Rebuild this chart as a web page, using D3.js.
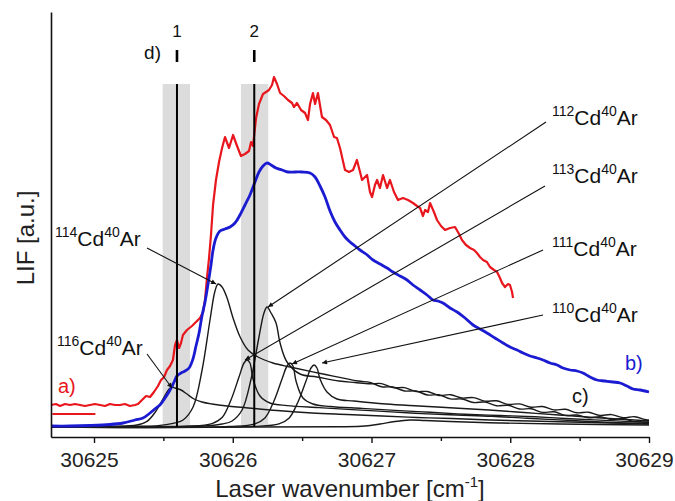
<!DOCTYPE html>
<html>
<head>
<meta charset="utf-8">
<script src="https://cdn.jsdelivr.net/npm/d3@7"></script>
<style>
  html, body { margin: 0; padding: 0; background: #fff; }
  svg { display: block; font-family: "Liberation Sans", Arial, Helvetica, sans-serif; }
</style>
</head>
<body>
<svg id="chart" width="675" height="501"></svg>
<script>
// ---- axis ticks ----
const wavenumberTicks = [30625, 30626, 30627, 30628, 30629];
const halfTicks = [30625.5, 30626.5, 30627.5, 30628.5];

// ---- a) measured LIF excitation spectrum [wavenumber, LIF] ----
const spectrumA = [
  [30624.690,22],[30624.726,23],[30624.755,21],[30624.791,23],[30624.827,22],[30624.863,23],[30624.899,22],
  [30624.935,21],[30624.971,22],[30625.007,23],[30625.043,22],[30625.079,21],[30625.115,23],[30625.151,22],
  [30625.187,22],[30625.223,23],[30625.259,21],[30625.295,22],[30625.317,23],[30625.346,27],[30625.375,31],
  [30625.404,30],[30625.432,35],[30625.461,41],[30625.483,47],[30625.505,50],[30625.526,57],[30625.548,61],
  [30625.569,67],[30625.584,82],[30625.598,87],[30625.613,79],[30625.627,84],[30625.641,92],[30625.670,97],
  [30625.706,101],[30625.735,105],[30625.764,109],[30625.786,115],[30625.800,127],[30625.814,149],[30625.829,169],
  [30625.843,192],[30625.858,222],[30625.879,247],[30625.901,265],[30625.923,279],[30625.944,290],[30625.973,279],
  [30626.002,292],[30626.031,281],[30626.059,271],[30626.088,273],[30626.117,276],[30626.132,285],[30626.146,281],
  [30626.168,309],[30626.189,323],[30626.218,333],[30626.240,335],[30626.261,337],[30626.283,342],[30626.297,350],
  [30626.319,343],[30626.341,334],[30626.369,331],[30626.398,327],[30626.427,324],[30626.441,320],[30626.463,324],
  [30626.492,317],[30626.521,314],[30626.542,307],[30626.557,323],[30626.578,334],[30626.593,323],[30626.614,334],
  [30626.643,310],[30626.672,307],[30626.701,302],[30626.730,290],[30626.751,289],[30626.773,279],[30626.809,257],
  [30626.838,255],[30626.867,257],[30626.895,267],[30626.932,247],[30626.968,252],[30626.989,235],[30627.004,230],
  [30627.025,242],[30627.040,247],[30627.061,239],[30627.083,252],[30627.112,239],[30627.133,247],[30627.162,235],
  [30627.191,227],[30627.227,229],[30627.263,227],[30627.299,224],[30627.328,221],[30627.350,219],[30627.371,211],
  [30627.386,217],[30627.407,215],[30627.422,224],[30627.450,215],[30627.472,207],[30627.501,201],[30627.530,197],
  [30627.566,199],[30627.602,200],[30627.631,193],[30627.652,187],[30627.681,182],[30627.710,179],[30627.739,177],
  [30627.760,174],[30627.782,170],[30627.804,167],[30627.832,165],[30627.854,160],[30627.883,157],[30627.905,155],
  [30627.926,149],[30627.941,144],[30627.962,140],[30627.984,143],[30627.998,142],[30628.013,135],[30628.020,129]
];
// zero level of spectrum a)
const zeroLevelA = [[30624.700,13],[30625.010,13]];

// ---- b) sum of simulated isotopologue bands ----
const spectrumB = [
  [30624.690,1],[30624.827,1],[30624.971,1.5],[30625.115,2.5],[30625.209,4],[30625.295,7],[30625.353,9],
  [30625.404,14],[30625.447,19],[30625.475,22],[30625.512,29],[30625.548,37],[30625.577,45],[30625.598,51],
  [30625.627,54],[30625.656,56],[30625.685,59],[30625.713,68],[30625.735,81],[30625.757,94],[30625.778,111],
  [30625.800,125],[30625.822,143],[30625.843,162],[30625.858,177],[30625.879,189],[30625.908,196],[30625.944,198],
  [30625.980,200],[30626.016,204],[30626.052,212],[30626.088,222],[30626.124,232],[30626.160,245],[30626.189,255],
  [30626.218,261],[30626.247,264],[30626.276,262],[30626.312,259],[30626.355,257],[30626.398,255],[30626.449,255],
  [30626.499,255],[30626.557,254],[30626.593,250],[30626.629,241],[30626.665,230],[30626.701,216],[30626.737,205],
  [30626.773,197],[30626.809,190],[30626.845,185],[30626.881,181],[30626.917,177],[30626.960,173],[30627.011,167],
  [30627.061,163],[30627.112,159],[30627.155,155],[30627.205,151],[30627.256,147],[30627.299,142],[30627.350,137],
  [30627.400,132],[30627.443,127],[30627.479,126],[30627.515,124],[30627.566,119],[30627.617,115],[30627.674,109],
  [30627.732,102],[30627.782,98],[30627.832,94],[30627.890,89],[30627.948,84],[30627.998,80],[30628.049,77],
  [30628.092,74],[30628.143,71],[30628.193,69],[30628.236,67],[30628.287,64],[30628.337,62],[30628.380,59],
  [30628.431,57],[30628.481,56],[30628.524,54],[30628.575,50],[30628.625,47],[30628.683,46],[30628.740,45],
  [30628.791,44],[30628.841,41],[30628.885,38],[30628.935,37],[30629.000,35]
];

// ---- c) simulated band profiles of the CdAr isotopologues ----
const band116 = [
  [30624.690,0],[30625.130,0.4],[30625.310,2],[30625.382,5.6],[30625.447,16],[30625.505,30],[30625.541,38],
  [30625.562,40],[30625.584,39],[30625.627,37],[30625.670,33],[30625.721,28],[30625.778,25],[30625.850,23],
  [30625.959,21],[30626.081,19.5],[30626.319,16.5],[30626.571,14],[30626.823,12.5],[30627.076,11],[30627.328,9.5],
  [30627.580,8.5],[30627.854,7],[30628.142,6],[30628.431,5],[30628.719,4],[30629.000,3.5]
];
const band114 = [
  [30624.690,0],[30625.100,0.6],[30625.462,1.4],[30625.570,3.6],[30625.642,7],[30625.714,20],[30625.779,57],
  [30625.836,107],[30625.872,136],[30625.894,143],[30625.923,140],[30625.959,129],[30626.002,109],[30626.053,90],
  [30626.110,77],[30626.182,70],[30626.290,64],[30626.413,60],[30626.651,53],[30626.903,46],[30626.989,44.6],
  [30627.072,40.3],[30627.155,40],[30627.238,36],[30627.321,36],[30627.404,32],[30627.486,32.2],
  [30627.569,28.1],[30627.652,28],[30627.735,24.5],[30627.818,24.9],[30627.901,21.2],[30627.984,21.7],
  [30628.067,18],[30628.150,18.3],[30628.232,14.6],[30628.315,15.2],[30628.398,11.6],[30628.481,12],
  [30628.564,9.2],[30628.647,10.4],[30628.730,7.5],[30628.813,8.5],[30628.896,5.4],[30628.978,6.2],[30629.000,6]
];
const band113 = [
  [30624.690,0],[30625.670,0.7],[30625.850,3.4],[30625.923,9.4],[30625.987,27],[30626.045,50],[30626.081,64],
  [30626.103,67],[30626.124,64],[30626.146,48],[30626.196,31],[30626.268,24],[30626.391,21.4],[30626.622,19.4],
  [30626.859,17.4],[30627.112,15.4],[30627.364,13.4],[30627.616,12],[30627.868,10.7],[30628.121,8.7],
  [30628.409,6.7],[30628.697,4.7],[30629.000,3]
];
const band112 = [
  [30624.690,0],[30625.647,0.6],[30625.815,1.2],[30625.923,3],[30625.995,6],[30626.067,17],[30626.132,48],
  [30626.189,90],[30626.225,114],[30626.247,120],[30626.276,114],[30626.312,104],[30626.341,84],[30626.391,65],
  [30626.485,53],[30626.607,50],[30626.766,46],[30626.881,44.5],[30626.989,43.2],[30627.072,43.4],[30627.155,39.4],
  [30627.238,39.4],[30627.321,35.5],[30627.404,35.5],[30627.486,31.5],[30627.569,32.3],[30627.652,29],[30627.735,29.4],
  [30627.818,25.9],[30627.901,26.2],[30627.984,22.6],[30628.067,23.1],[30628.150,19.8],[30628.232,20.5],
  [30628.315,17.1],[30628.398,17.7],[30628.481,14.2],[30628.564,14.8],[30628.647,11.6],[30628.730,12.4],
  [30628.813,9.3],[30628.896,10.3],[30628.978,7.2],[30629.000,7]
];
const band111 = [
  [30624.690,0],[30625.980,0.6],[30626.160,3.2],[30626.232,9],[30626.297,26],[30626.355,48],[30626.391,61],
  [30626.413,64],[30626.434,61],[30626.456,46],[30626.506,29],[30626.578,23],[30626.701,20.5],[30626.932,18.6],
  [30627.169,16.6],[30627.422,14.7],[30627.674,12.8],[30627.926,11.5],[30628.178,10.2],[30628.431,8.3],
  [30628.719,6.4],[30629.000,4.5]
];
const band110 = [
  [30624.690,0],[30626.153,0.6],[30626.333,3.1],[30626.405,8.7],[30626.470,25],[30626.528,46],[30626.564,59],
  [30626.586,62],[30626.607,59],[30626.629,48],[30626.679,35],[30626.751,28],[30626.874,26],[30627.105,23],
  [30627.342,21],[30627.595,19],[30627.847,17],[30628.099,14.5],[30628.351,12],[30628.604,9.5],[30628.892,7],
  [30629.000,6]
];
const band108 = [
  [30624.690,0],[30626.773,0.2],[30626.953,1],[30627.061,3],[30627.169,5.5],[30627.277,7],[30627.386,6.5],
  [30627.566,5.5],[30627.926,4],[30628.359,3],[30629.000,2]
];

// ---- d) laser positions 1 and 2 with their spectral windows ----
const markerNames = ["1", "2"];
const markerPositions = [30625.598, 30626.155];
const markerWindows = [[30625.495, 30625.692], [30626.059, 30626.256]];
const windowTop = 343;
const markerTick = [365, 377];

// ---- isotopologue annotations ----
const isotopeMasses = ["114", "116", "112", "113", "111", "110"];
const isotopeBands = [band114, band116, band112, band113, band111, band110];

// ---------------------------------------------------------------
const svg = d3.select("#chart");
const x = d3.scaleLinear().domain([30624.69, 30629]).range([51, 649]);
const y = d3.scaleLinear().domain([-10, 415]).range([437, 12]);

const smooth = d3.line().x(d => x(d[0])).y(d => y(d[1])).curve(d3.curveCatmullRom.alpha(0.5));
const jagged = d3.line().x(d => x(d[0])).y(d => y(d[1]));

svg.append("defs").append("marker")
  .attr("id", "arrowHead")
  .attr("viewBox", "0 0 10 10")
  .attr("refX", 10).attr("refY", 5)
  .attr("markerWidth", 8).attr("markerHeight", 5)
  .attr("markerUnits", "userSpaceOnUse")
  .attr("orient", "auto")
  .append("path").attr("d", "M0,0L10,5L0,10Z").attr("fill", "#111");

// spectral windows
svg.append("g").selectAll("rect").data(markerWindows).join("rect")
  .attr("x", d => x(d[0]))
  .attr("width", d => x(d[1]) - x(d[0]))
  .attr("y", y(windowTop))
  .attr("height", y(0) - y(windowTop))
  .attr("fill", "#dcdcdc");

// simulated isotopologue bands
svg.append("g").selectAll("path")
  .data([band116, band114, band113, band112, band111, band110, band108]).join("path")
  .attr("d", smooth)
  .attr("fill", "none")
  .attr("stroke", "#1a1a1a")
  .attr("stroke-width", 1.4);

// measured spectrum a)
svg.append("path").datum(spectrumA)
  .attr("d", jagged)
  .attr("fill", "none")
  .attr("stroke", "#e8161d")
  .attr("stroke-width", 2.2)
  .attr("stroke-linejoin", "round");
svg.append("path").datum(zeroLevelA)
  .attr("d", jagged)
  .attr("stroke", "#e8161d")
  .attr("stroke-width", 2);

// sum spectrum b)
svg.append("path").datum(spectrumB)
  .attr("d", smooth)
  .attr("fill", "none")
  .attr("stroke", "#1b1bd2")
  .attr("stroke-width", 2.8);

// laser position lines
svg.append("g").selectAll("line").data(markerPositions).join("line")
  .attr("x1", d => x(d)).attr("x2", d => x(d))
  .attr("y1", y(windowTop)).attr("y2", y(0))
  .attr("stroke", "#000").attr("stroke-width", 2);

// position ticks and numbers above the plot
svg.append("g").selectAll("line").data(markerPositions).join("line")
  .attr("x1", d => x(d)).attr("x2", d => x(d))
  .attr("y1", y(markerTick[0])).attr("y2", y(markerTick[1]))
  .attr("stroke", "#000").attr("stroke-width", 2.6);
svg.append("g").selectAll("text").data(markerNames).join("text")
  .attr("x", (d, i) => x(markerPositions[i]))
  .attr("y", 37)
  .attr("text-anchor", "middle")
  .attr("font-size", 17)
  .attr("fill", "#111")
  .text(d => d);
svg.append("text").attr("x", 161).attr("y", 59).attr("text-anchor", "end")
  .attr("font-size", 19).attr("fill", "#111").text("d)");

// isotopologue labels with leader arrows
const labelLayout = {
  "114": { tx: 55,  ty: 246, from: [147, 248], dx: -2, dy: 0 },
  "116": { tx: 57,  ty: 355, from: [147, 354], dx: 0,  dy: 1 },
  "112": { tx: 552, ty: 125, from: [546, 122], dx: 1,  dy: 0 },
  "113": { tx: 552, ty: 183, from: [545, 186], dx: -2, dy: 0 },
  "111": { tx: 552, ty: 256, from: [543, 250], dx: 2,  dy: 1 },
  "110": { tx: 552, ty: 322, from: [543, 315], dx: 8,  dy: -2 }
};
const ann = svg.append("g");
isotopeMasses.forEach((mass, i) => {
  const L = labelLayout[mass];
  const peak = d3.greatest(isotopeBands[i], d => d[1]);
  ann.append("line")
    .attr("x1", L.from[0]).attr("y1", L.from[1])
    .attr("x2", x(peak[0]) + L.dx).attr("y2", y(peak[1]) + L.dy)
    .attr("stroke", "#111").attr("stroke-width", 1.1)
    .attr("marker-end", "url(#arrowHead)");
  const t = ann.append("text").attr("x", L.tx).attr("y", L.ty)
    .attr("font-size", 21).attr("fill", "#111");
  t.append("tspan").attr("font-size", 14).attr("dy", -9).text(mass);
  t.append("tspan").attr("dy", 9).text("Cd");
  t.append("tspan").attr("font-size", 14).attr("dy", -9).text("40");
  t.append("tspan").attr("dy", 9).text("Ar");
});

// curve labels
svg.append("text").attr("x", 58).attr("y", 393).attr("font-size", 20)
  .attr("fill", "#e8161d").text("a)");
svg.append("text").attr("x", 625).attr("y", 370).attr("font-size", 20)
  .attr("fill", "#1b1bd2").text("b)");
svg.append("text").attr("x", 572).attr("y", 403).attr("font-size", 20)
  .attr("fill", "#111").text("c)");

// axes
const xAxis = svg.append("g").attr("transform", `translate(0,${y(-10)})`)
  .call(d3.axisBottom(x).tickValues(wavenumberTicks).tickSize(6).tickSizeOuter(0)
    .tickPadding(9).tickFormat(d3.format("d")));
xAxis.select(".domain").attr("stroke", "#111").attr("stroke-width", 1.6);
xAxis.selectAll(".tick line").attr("stroke", "#111").attr("stroke-width", 1.4);
xAxis.selectAll(".tick text").attr("font-size", 21).attr("font-family", null)
  .attr("fill", "#222").attr("dx", -5);

const xMinor = svg.append("g").attr("transform", `translate(0,${y(-10)})`)
  .call(d3.axisBottom(x).tickValues(halfTicks).tickSize(4).tickSizeOuter(0).tickFormat(""));
xMinor.select(".domain").remove();
xMinor.selectAll(".tick line").attr("stroke", "#111").attr("stroke-width", 1.4);

const yAxis = svg.append("g").attr("transform", `translate(${x(30624.69)},0)`)
  .call(d3.axisLeft(y).tickValues([]).tickSizeOuter(0));
yAxis.select(".domain").attr("stroke", "#111").attr("stroke-width", 1.6);

// axis titles
const xt = svg.append("text").attr("x", 350).attr("y", 497)
  .attr("text-anchor", "middle").attr("font-size", 24).attr("fill", "#222");
xt.append("tspan").text("Laser wavenumber [cm");
xt.append("tspan").attr("font-size", 15).attr("dy", -10).text("-1");
xt.append("tspan").attr("dy", 10).text("]");

svg.append("text")
  .attr("transform", "translate(34,238) rotate(-90)")
  .attr("text-anchor", "middle").attr("font-size", 24).attr("fill", "#222")
  .text("LIF [a.u.]");
</script>
</body>
</html>
